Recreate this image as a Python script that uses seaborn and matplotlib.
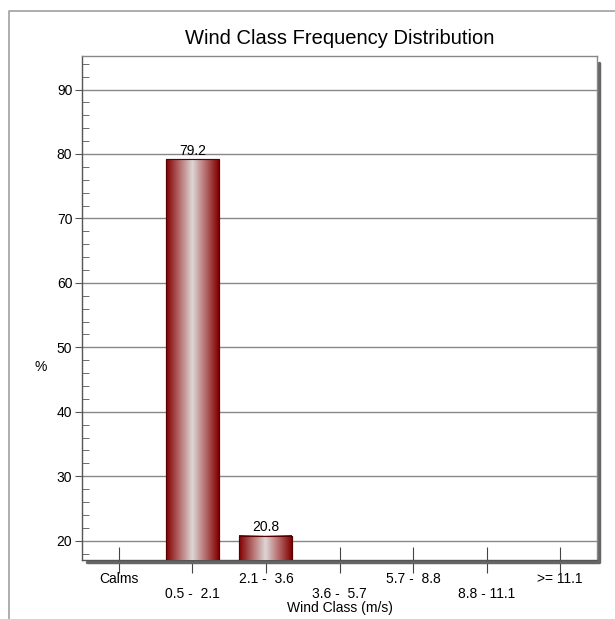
import numpy as np
import pandas as pd
import matplotlib
matplotlib.use("Agg")
import matplotlib.pyplot as plt
import matplotlib.transforms as mtransforms
from matplotlib.colors import LinearSegmentedColormap
from matplotlib.lines import Line2D
import seaborn as sns

classes = ["Calms", "0.5 -  2.1", "2.1 -  3.6", "3.6 -  5.7", "5.7 -  8.8", "8.8 - 11.1", ">= 11.1"]
freq = [0.0, 79.2, 20.8, 0.0, 0.0, 0.0, 0.0]

df = pd.DataFrame({"cls": classes, "pct": freq})

sns.set_style("white")
plt.rcParams["font.family"] = ["Liberation Sans", "DejaVu Sans"]
plt.rcParams["text.color"] = "black"
plt.rcParams["axes.labelcolor"] = "black"
plt.rcParams["xtick.labelcolor"] = "black"
plt.rcParams["ytick.labelcolor"] = "black"

YMIN, YMAX = 17, 95.2

fig = plt.figure(figsize=(6.15, 6.19), dpi=100)
ax = fig.add_axes([82 / 615, 1 - 560 / 619, 515 / 615, 504 / 619])

sns.barplot(data=df, x="cls", y="pct", ax=ax, width=0.72, color="#8b1010",
            edgecolor="#5a0000", linewidth=0.8, zorder=3)

# gradient fill: dark red edges, pale centre
cmap = LinearSegmentedColormap.from_list("bar", ["#800000", "#b56a6a", "#ddd6d6", "#b56a6a", "#800000"])
grad = np.linspace(0, 1, 256).reshape(1, -1)
for patch, v in zip(ax.patches, freq):
    if v <= 0:
        continue
    x0 = patch.get_x()
    w = patch.get_width()
    ax.imshow(grad, cmap=cmap, aspect="auto", extent=(x0, x0 + w, YMIN, v), zorder=3.5)
    ax.add_patch(plt.Rectangle((x0, YMIN - 5), w, v - YMIN + 5, fill=False,
                               edgecolor="#5a0000", linewidth=0.8, zorder=4))
    ax.text(x0 + w / 2, v + 0.2, f"{v:.1f}", ha="center", va="bottom", fontsize=10, zorder=5)
ax.set_xlim(-0.5, 6.5)
ax.set_ylim(YMIN, YMAX)

# ticks
ax.set_yticks(np.arange(20, 91, 10))
ax.set_yticks(np.arange(18, 95, 2), minor=True)
ax.tick_params(axis="y", which="major", direction="out", length=5, color="#555555",
               labelsize=10, pad=2, left=True)
ax.tick_params(axis="y", which="minor", direction="in", length=5, color="#555555", left=True)
ax.set_xticks(range(len(classes)))
labels = [c if i % 2 == 0 else "\n" + c for i, c in enumerate(classes)]
ax.set_xticklabels(labels, linespacing=1.1)
ax.tick_params(axis="x", which="major", direction="inout", length=19, color="#444444",
               labelsize=10, pad=-1, bottom=True)
ax.grid(axis="y", which="major", color="#888888", linewidth=1, zorder=0)
ax.set_axisbelow(True)

for s in ax.spines.values():
    s.set_color("#888888")
    s.set_linewidth(1)
ax.spines["left"].set_color("#555555")
ax.spines["bottom"].set_color("#555555")

ax.set_xlabel("")
fig.text((82 + 597) / 2 / 615, 1 - 608 / 619, "Wind Class (m/s)", fontsize=10, ha="center", va="center")
ax.set_ylabel("%", fontsize=10, rotation=0, va="center", ha="center")
ax.yaxis.set_label_coords(-0.08, (560 - 367) / 504)
ax.set_title("Wind Class Frequency Distribution", fontsize=14.5, pad=9)

# drop shadow on right and bottom of plot frame
sh = mtransforms.offset_copy(ax.transAxes, fig=fig, x=2, y=-2, units="dots")
ax.add_line(Line2D([1, 1, 0.005], [0.99, 0, 0], transform=sh, color="#666666", linewidth=2.5, clip_on=False, zorder=1))

# outer frame
fig.add_artist(Line2D([9 / 615, 9 / 615, 1.0], [0, 1 - 11 / 619, 1 - 11 / 619],
                      transform=fig.transFigure, color="#a0a0a0", linewidth=1.2))

fig.savefig("out.png", dpi=100)
